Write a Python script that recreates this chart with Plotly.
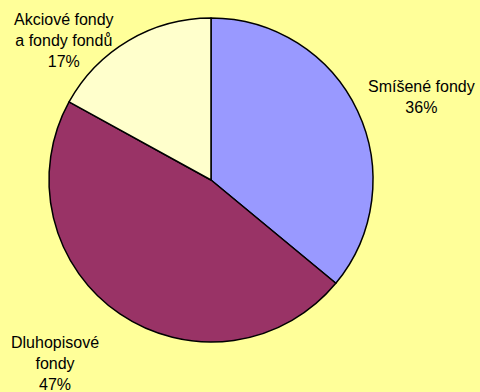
import plotly.graph_objects as go

labels = ["Smíšené fondy", "Dluhopisové fondy", "Akciové fondy a fondy fondů"]
values = [36, 47, 17]
label_text = ["Smíšené fondy<br>36%", "Dluhopisové<br>fondy<br>47%", "Akciové fondy<br>a fondy fondů<br>17%"]
colors = ["#9999FF", "#993366", "#FFFFCC"]

W, H = 480, 392
cx, cy, r = 211, 180, 162

fig = go.Figure(go.Pie(
    labels=labels, values=values, sort=False, direction="clockwise", rotation=0,
    marker=dict(colors=colors, line=dict(color="black", width=1.5)),
    textinfo="none", hoverinfo="label+percent", showlegend=False,
    domain=dict(x=[(cx - r) / W, (cx + r) / W], y=[1 - (cy + r) / H, 1 - (cy - r) / H]),
))

# label centres (pixels)
label_pos = [(421, 97), (55, 363), (64, 40)]
for txt, (px, py) in zip(label_text, label_pos):
    fig.add_annotation(x=px / W, y=1 - py / H, xref="paper", yref="paper", text=txt,
                       showarrow=False, align="center", xanchor="center", yanchor="middle",
                       font=dict(family="Liberation Sans, Arial", size=16, color="black"))

fig.update_layout(width=W, height=H, margin=dict(l=0, r=0, t=0, b=0),
                  paper_bgcolor="#FFFF99", plot_bgcolor="#FFFF99")
fig.write_html("out.html")
